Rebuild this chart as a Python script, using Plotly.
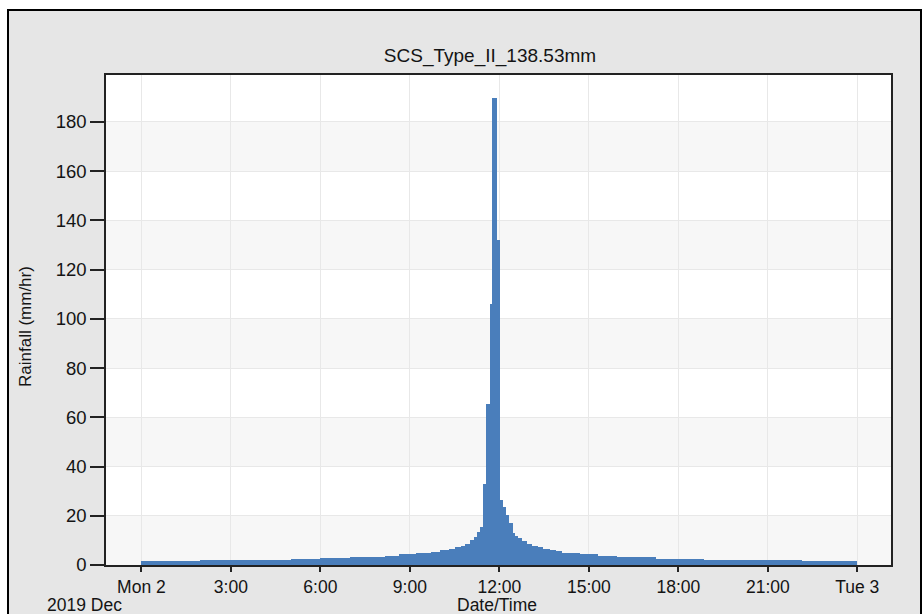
import plotly.graph_objects as go
from datetime import datetime, timedelta

# ---- data (hours from 2019-12-02 00:00, rainfall mm/hr) ----
seg_start_hours = [0.0, 1.95, 5.0, 6.0, 7.0, 7.65, 8.15, 8.65, 9.2, 9.7,
                   10.0, 10.3, 10.5, 10.7, 10.85, 11.0, 11.15, 11.25, 11.35, 11.45,
                   11.55, 11.7, 11.75, 11.93, 12.02, 12.13, 12.22, 12.33, 12.45, 12.52,
                   12.62, 12.75, 12.92, 13.1, 13.3, 13.45, 13.7, 13.9, 14.1, 14.72,
                   15.3, 15.95, 17.25, 18.85, 22.15]
seg_end_hour = 24.0
rain_mm_hr = [1.5, 2.0, 2.5, 2.8, 3.1, 3.4, 3.8, 4.3, 4.8, 5.3,
              6.0, 6.5, 7.2, 7.7, 8.5, 10.2, 11.5, 13.5, 15.6, 33,
              65.5, 106, 189.5, 132, 26.5, 23.5, 20.3, 17, 12.9, 11.8,
              10.8, 9.6, 8.5, 7.7, 7.2, 6.6, 6.1, 5.6, 5.0, 4.4,
              3.8, 3.1, 2.6, 2.0, 1.5]
assert len(seg_start_hours) == len(rain_mm_hr)

tick_hours = [0, 3, 6, 9, 12, 15, 18, 21, 24]
tick_labels = ["Mon 2", "3:00", "6:00", "9:00", "12:00", "15:00", "18:00", "21:00", "Tue 3"]
y_ticks = [0, 20, 40, 60, 80, 100, 120, 140, 160, 180]

title_text = "SCS_Type_II_138.53mm"
x_title = "Date/Time"
y_title = "Rainfall (mm/hr)"
date_caption = "2019 Dec"

base = datetime(2019, 12, 2, 0, 0)
ends = seg_start_hours[1:] + [seg_end_hour]
x_starts = [base + timedelta(hours=h) for h in seg_start_hours]
widths_ms = [(e - s) * 3600 * 1000 for s, e in zip(seg_start_hours, ends)]

FONT = "Liberation Sans"
TXT = "#141414"

fig = go.Figure()
fig.add_trace(go.Bar(
    x=x_starts, y=rain_mm_hr, width=widths_ms, offset=0,
    marker=dict(color="#4A7EBB", line=dict(width=0)),
    hoverinfo="x+y", showlegend=False,
))

# alternating horizontal bands in plot area
shapes = []
for i in range(0, len(y_ticks), 2):
    lo = y_ticks[i]
    shapes.append(dict(type="rect", xref="paper", yref="y", x0=0, x1=1, y0=lo, y1=lo + 20,
                       fillcolor="#F7F7F7", line=dict(width=0), layer="below"))

# white outside the outer frame + the frame itself
W, H = 924, 614
L, R, T, B = 106, 33, 75, 49
pw, ph = W - L - R, H - T - B
def px(xp):
    return (xp - L) / pw
def py(yp):
    return (H - B - yp) / ph
fx0, fy0, fx1, fy1 = 8, 10, 921, 640
for (a, b, c, d) in [(-5, -5, fx0, H + 5), (-5, -5, W + 5, fy0), (fx1, -5, W + 5, H + 5)]:
    shapes.append(dict(type="rect", xref="paper", yref="paper",
                       x0=px(a), x1=px(c), y0=py(d), y1=py(b),
                       fillcolor="white", line=dict(width=0), layer="below"))
shapes.append(dict(type="rect", xref="paper", yref="paper",
                   x0=px(fx0), x1=px(fx1), y0=py(fy1), y1=py(fy0),
                   fillcolor="rgba(0,0,0,0)", line=dict(color="black", width=2), layer="below"))

fig.update_layout(
    width=W, height=H,
    margin=dict(l=L, r=R, t=T, b=B, pad=0),
    paper_bgcolor="#E6E6E6",
    plot_bgcolor="white",
    font=dict(family=FONT, size=18, color=TXT),
    title=dict(text=title_text, x=px(490), xref="paper", xanchor="center",
               y=1 - 55 / H, yref="container", yanchor="middle",
               font=dict(family=FONT, size=19, color=TXT)),
    shapes=shapes,
    bargap=0,
    showlegend=False,
    annotations=[
        dict(text=date_caption, xref="paper", yref="paper", x=px(45), y=py(605),
             xanchor="left", yanchor="middle", showarrow=False,
             font=dict(family=FONT, size=17.5, color=TXT)),
        dict(text=x_title, xref="paper", yref="paper", x=px(497), y=py(605),
             xanchor="center", yanchor="middle", showarrow=False,
             font=dict(family=FONT, size=17.5, color=TXT)),
        dict(text=y_title, xref="paper", yref="paper", x=px(25), y=py(327),
             xanchor="center", yanchor="middle", textangle=-90, showarrow=False,
             font=dict(family=FONT, size=17, color=TXT)),
    ],
)

x_lo = base + timedelta(hours=-1.187)
x_hi = base + timedelta(hours=25.13)
fig.update_xaxes(
    type="date", range=[x_lo, x_hi],
    tickvals=[base + timedelta(hours=h) for h in tick_hours], ticktext=tick_labels,
    ticks="outside", ticklen=5, tickwidth=1.5, tickcolor="#222",
    showgrid=True, gridcolor="#E8E8E8", gridwidth=1,
    showline=True, linecolor="#222", linewidth=1.5, mirror=True,
    tickfont=dict(family=FONT, size=17.5, color=TXT),
    zeroline=False,
)
fig.update_yaxes(
    range=[0, 199], tickvals=y_ticks,
    ticks="outside", ticklen=14, tickwidth=1.5, tickcolor="#222",
    showgrid=True, gridcolor="#E8E8E8", gridwidth=1,
    showline=True, linecolor="#222", linewidth=1.5, mirror=True,
    tickfont=dict(family=FONT, size=18.5, color=TXT),
    zeroline=False,
)

fig.write_html("out.html")
